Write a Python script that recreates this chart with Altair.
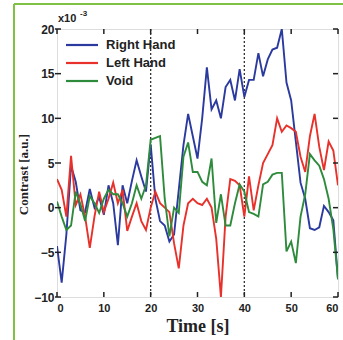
import altair as alt
import pandas as pd

t = list(range(61))
right_hand = [-4.3, -8.4, -3, 4.7, 2.9, -0.3, -0.5, 2.1, 0, 1.2,
              -0.8, 2.5, 0.5, -4.2, 2.5, 0.5, 3, 5.3, 3.5, 1.8,
              7.1, 1, -1.5, -2, -3.8, -3, 2, 7, 10.5, 8,
              5.5, 10, 15.7, 11, 12, 10, 13.5, 14.3, 12, 15.5,
              12.4, 14.3, 14.3, 17.3, 14.7, 16.6, 17.7, 17.9, 20, 14,
              12, 7.4, 2.8, 1, -2.3, -2.5, -2.2, 0.2, -0.5, -1.4,
              -8]
left_hand = [3.2, 2, -1, 5.8, 0.3, 1.5, -1, -4.5, -1, 1.8,
             -0.5, 1, 2.8, 0.5, 2, -2.6, -1, 0.5, -1.5, -2.5,
             0, 1.8, 0.5, 0, -0.5, -4, -6.8, -2, 0.5, 1,
             0.5, 0.3, 1, 0, -3.5, -10, -1, 3.2, 3, 2.5,
             -1, 3.5, -0.3, 2.5, 5, 6, 7, 10, 8.5, 9.2,
             8.9, 8.5, 5.7, 4, 8, 10.5, 6.8, 4.2, 7.4, 6.4,
             2.5]
void = [0.7, -1, -2.5, -2, 1.8, 0.4, -1.5, 1.3, 0.5, -0.6,
        1, 2, 1.5, 1.5, 0.5, -1, 0.5, 2.5, 1, 2.5,
        7.6, 7.8, 8, 1, -3.2, 0, -0.6, 5.7, 7.3, 4,
        4, 2.9, 2.5, 5.5, -1.7, 1.5, -2, -2, 0.5, 2.6,
        1.8, -0.5, -0.7, -1, 2.6, 2.9, 3.7, 3.9, 3.9, -4.9,
        -3.8, -6.2, -1, 1.5, 6, 5.3, 4.7, 3.2, 1, -2.4,
        -8]

series_names = ["Right Hand", "Left Hand", "Void"]
series_colors = ["#2b3a9e", "#e8312a", "#2e8b3c"]
x_ticks = [0, 10, 20, 30, 40, 50, 60]
y_ticks = [-10, -5, 0, 5, 10, 15, 20]
markers = [20, 40]

W, H = 281, 268

rows = []
for name, vals in zip(series_names, [right_hand, left_hand, void]):
    for ti, v in zip(t, vals):
        rows.append({"Time": ti, "Contrast": v, "Series": name})
df = pd.DataFrame(rows)

xscale = alt.Scale(domain=[0, 60], nice=False, zero=False)
yscale = alt.Scale(domain=[-10, 20], nice=False, zero=False)
cscale = alt.Scale(domain=series_names, range=series_colors)

lines = alt.Chart(df).mark_line(strokeWidth=1.9, clip=True).encode(
    x=alt.X("Time:Q", scale=xscale,
            axis=alt.Axis(values=x_ticks, title="Time [s]", ticks=False, domain=False,
                          grid=False, labelFont="Liberation Sans", labelFontWeight="bold",
                          labelFontSize=11, labelColor="#222", labelPadding=5,
                          titleFont="Liberation Serif", titleFontWeight="bold",
                          titleFontSize=18, titleColor="#222", titlePadding=4)),
    y=alt.Y("Contrast:Q", scale=yscale,
            axis=alt.Axis(values=y_ticks, title="Contrast [a.u.]", ticks=False, domain=False,
                          grid=False, labelFont="Liberation Sans", labelFontWeight="bold",
                          labelFontSize=12, labelColor="#222", labelPadding=3,
                          titleFont="Liberation Serif", titleFontWeight="bold",
                          titleFontSize=13, titleColor="#222", titlePadding=3,
                          titleY=145)),
    color=alt.Color("Series:N", sort=series_names, scale=cscale, legend=None),
)

mk = pd.DataFrame({"m": markers})
dashes = alt.Chart(mk).mark_rule(color="#333", strokeWidth=1.3, strokeDash=[2, 2]).encode(
    x=alt.X("m:Q", scale=xscale)
)

xt = pd.DataFrame({"v": x_ticks})
yt = pd.DataFrame({"v": y_ticks})
tick_style = dict(color="#222", strokeWidth=1.5)
xt_bottom = alt.Chart(xt).mark_rule(**tick_style).encode(
    x=alt.X("v:Q", scale=xscale), y=alt.value(H), y2=alt.value(H - 5))
xt_top = alt.Chart(xt).mark_rule(**tick_style).encode(
    x=alt.X("v:Q", scale=xscale), y=alt.value(0), y2=alt.value(5))
yt_left = alt.Chart(yt).mark_rule(**tick_style).encode(
    y=alt.Y("v:Q", scale=yscale), x=alt.value(-2), x2=alt.value(4))
yt_right = alt.Chart(yt).mark_rule(**tick_style).encode(
    y=alt.Y("v:Q", scale=yscale), x=alt.value(W), x2=alt.value(W - 5))

# manual legend (inside upper-left, like MATLAB's legend)
legend_layers = []
for i, (name, col) in enumerate(zip(series_names, series_colors)):
    yy = 16 + 18 * i
    ld = pd.DataFrame({"Series": [name]})
    legend_layers.append(
        alt.Chart(ld).mark_rule(strokeWidth=2.2, color=col).encode(
            x=alt.value(9), x2=alt.value(41), y=alt.value(yy)))
    legend_layers.append(
        alt.Chart(ld).mark_text(font="Liberation Sans", fontWeight="bold", fontSize=13,
                                align="left", baseline="middle", color="#222").encode(
            text="Series:N", x=alt.value(49), y=alt.value(yy)))

exp_base = alt.Chart(pd.DataFrame({"s": ["x10"]})).mark_text(
    font="Liberation Sans", fontWeight="bold", fontSize=11, align="left",
    baseline="bottom", color="#222").encode(text="s:N", x=alt.value(1), y=alt.value(-5))
exp_sup = alt.Chart(pd.DataFrame({"s": ["-3"]})).mark_text(
    font="Liberation Sans", fontWeight="bold", fontSize=8, align="left",
    baseline="bottom", color="#222").encode(text="s:N", x=alt.value(23), y=alt.value(-11))

frame_color = "#7dc242"
frame_top = alt.Chart(pd.DataFrame({"a": [0]})).mark_rule(color=frame_color, strokeWidth=2).encode(
    x=alt.value(-43), x2=alt.value(W + 10), y=alt.value(-25))
frame_left = alt.Chart(pd.DataFrame({"a": [0]})).mark_rule(color=frame_color, strokeWidth=2).encode(
    x=alt.value(-43), y=alt.value(-25), y2=alt.value(H + 50))

chart = alt.layer(
    dashes, lines, xt_bottom, xt_top, yt_left, yt_right, *legend_layers,
    exp_base, exp_sup, frame_top, frame_left
).properties(
    width=W, height=H,
    autosize=alt.AutoSizeParams(type="none"),
    padding={"left": 57, "top": 29, "right": 5, "bottom": 43},
).configure_view(
    stroke="#222", strokeWidth=2
).configure(background="white")

chart.save("out.html", embed_options={"renderer": "svg", "actions": False})
